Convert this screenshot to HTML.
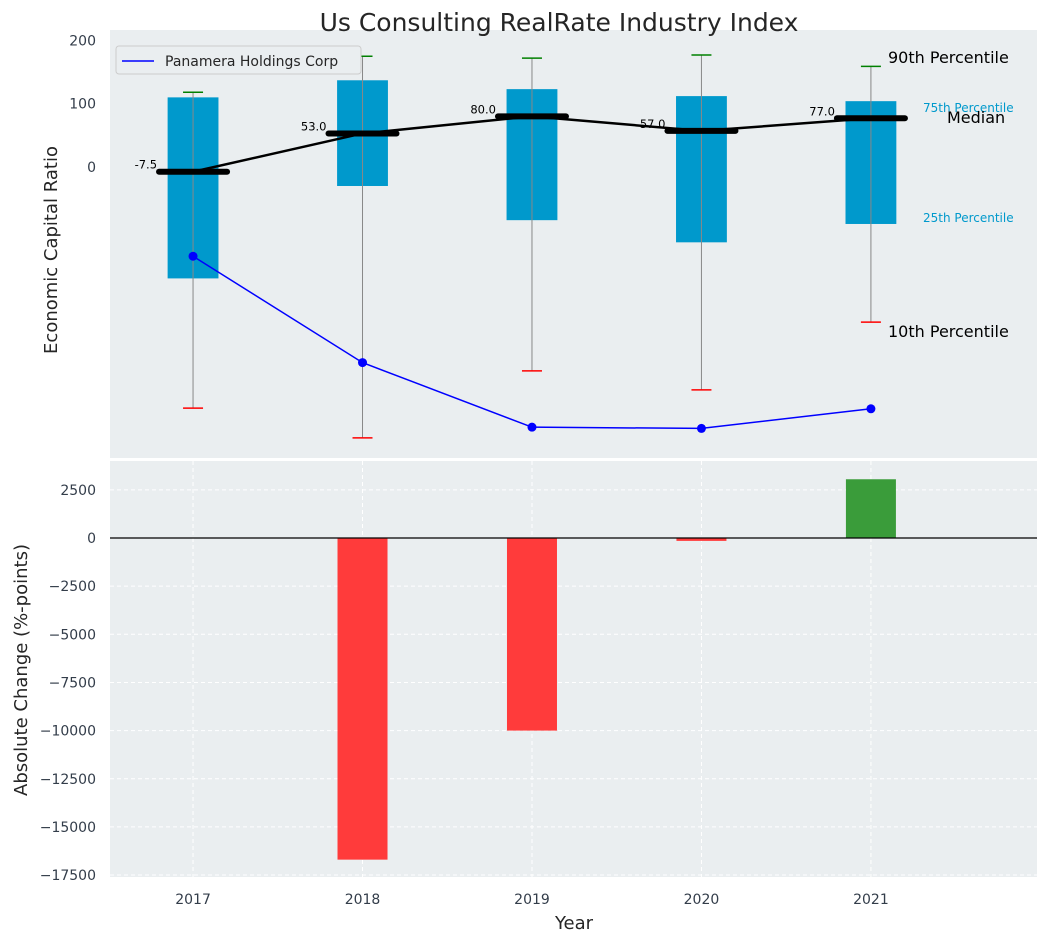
<!DOCTYPE html>
<html><head><meta charset="utf-8"><style>
body{margin:0;background:#fff;font-family:"Liberation Sans","DejaVu Sans",sans-serif}
svg text{font-family:"DejaVu Sans","Liberation Sans",sans-serif}
</style></head><body>
<svg id="c" width="1048" height="942"></svg>
<script>
const years=[2017,2018,2019,2020,2021];
const p10=[-381,-428,-322,-352,-245];
const p25=[-176,-30,-84,-119,-90];
const med=[-7.5,53,80,57,77];
const p75=[110,137,123,112,104];
const p90=[118,175,172,177,159];
const company=[-141,-309,-411,-413,-382];
const changes=[0,-16700,-10000,-150,3050];
const topTicks=[200,100,0];
const botTicks=[2500,0,-2500,-5000,-7500,-10000,-12500,-15000,-17500];

const svg=document.getElementById('c');const NS='http://www.w3.org/2000/svg';
function mk(t,a,p,txt){const e=document.createElementNS(NS,t);for(const k in a)e.setAttribute(k,a[k]);if(txt!==undefined)e.textContent=txt;(p||svg).appendChild(e);return e;}
const L=110,R=1037;
const x=v=>L+(v-2016.51)/(2021.98-2016.51)*(R-L);
const yT=v=>167-v*0.633;
const yB=v=>538-v*(48.15/2500);
const T1=30,B1=458,T2=461,B2=877;
let e;
e=mk('rect',{x:L,y:T1,width:R-L,height:B1-T1,fill:'#eaeef0'});

e=mk('rect',{x:L,y:T2,width:R-L,height:B2-T2,fill:'#eaeef0'});

e=mk('text',{x:559,y:31,'font-size':25,'text-anchor':'middle',fill:'#262626'},null,'Us Consulting RealRate Industry Index');

// top ticks
topTicks.forEach(t=>{e=mk('text',{x:96,y:yT(t)+5,'font-size':14,'text-anchor':'end',fill:'#333d4a'},null,t);
});
e=mk('text',{x:57,y:250,'font-size':18,'text-anchor':'middle',fill:'#262626',transform:'rotate(-90 57 250)'},null,'Economic Capital Ratio');

// bottom grid + ticks
botTicks.forEach(t=>{e=mk('line',{x1:L,x2:R,y1:yB(t),y2:yB(t),stroke:'#fff','stroke-dasharray':'4,3'});

e=mk('text',{x:96,y:yB(t)+5,'font-size':14,'text-anchor':'end',fill:'#333d4a'},null,t<0?'\u2212'+(-t):t);
});
years.forEach(yr=>{e=mk('line',{x1:x(yr),x2:x(yr),y1:T2,y2:B2,stroke:'#fff','stroke-dasharray':'4,3'});

e=mk('text',{x:x(yr),y:904,'font-size':14,'text-anchor':'middle',fill:'#333d4a'},null,yr);
});
e=mk('text',{x:27,y:670,'font-size':18,'text-anchor':'middle',fill:'#262626',transform:'rotate(-90 27 670)'},null,'Absolute Change (%-points)');

e=mk('text',{x:574,y:929,'font-size':18,'text-anchor':'middle',fill:'#262626'},null,'Year');

// boxes
const bw=0.3*(R-L)/(2021.98-2016.51);
years.forEach((yr,i)=>{const cx=x(yr);
e=mk('rect',{x:cx-bw/2,y:yT(p75[i]),width:bw,height:yT(p25[i])-yT(p75[i]),fill:'#0099cc'});

e=mk('line',{x1:cx,x2:cx,y1:yT(p90[i]),y2:yT(p10[i]),stroke:'#888','stroke-width':1});

e=mk('line',{x1:cx-10,x2:cx+10,y1:yT(p90[i]),y2:yT(p90[i]),stroke:'green','stroke-width':1.5});

e=mk('line',{x1:cx-10,x2:cx+10,y1:yT(p10[i]),y2:yT(p10[i]),stroke:'red','stroke-width':1.5});

});
e=mk('polyline',{points:years.map((yr,i)=>x(yr)+','+yT(med[i])).join(' '),fill:'none',stroke:'#000','stroke-width':2.5});

years.forEach((yr,i)=>{const cx=x(yr);
e=mk('line',{x1:cx-34,x2:cx+34,y1:yT(med[i]),y2:yT(med[i]),stroke:'#000','stroke-width':6,'stroke-linecap':'round'});

e=mk('text',{x:cx-36,y:yT(med[i])-3,'font-size':11.5,'text-anchor':'end',fill:'#000'},null,med[i].toFixed(1));
});
e=mk('polyline',{points:years.map((yr,i)=>x(yr)+','+yT(company[i])).join(' '),fill:'none',stroke:'blue','stroke-width':1.5});

years.forEach((yr,i)=>{e=mk('circle',{cx:x(yr),cy:yT(company[i]),r:4.5,fill:'blue'});
});
// annotations
const ann=[['90th Percentile',888,63,16,'#000'],['75th Percentile',923,112,12,'#0099cc'],['Median',947,123,16,'#000'],['25th Percentile',923,222,12,'#0099cc'],['10th Percentile',888,337,16,'#000']];
ann.forEach(a=>{e=mk('text',{x:a[1],y:a[2],'font-size':a[3],fill:a[4]},null,a[0]);
});
// legend
const g=mk('g',{});
mk('rect',{x:116,y:46,width:245,height:28,fill:'#eaeef0',stroke:'#ccc',rx:3},g);
mk('line',{x1:122,x2:154,y1:61,y2:61,stroke:'blue','stroke-width':1.5},g);
mk('text',{x:165,y:66,'font-size':14,fill:'#262626'},g,'Panamera Holdings Corp');
// bars
years.forEach((yr,i)=>{const v=changes[i];if(!v)return;
e=mk('rect',{x:x(yr)-25,y:Math.min(yB(v),yB(0)),width:50,height:Math.abs(yB(v)-yB(0)),fill:v<0?'#ff3b3b':'#3a9c3a'});
});
e=mk('line',{x1:L,x2:R,y1:yB(0),y2:yB(0),stroke:'#000','stroke-width':1.2});

</script>
</body></html>
